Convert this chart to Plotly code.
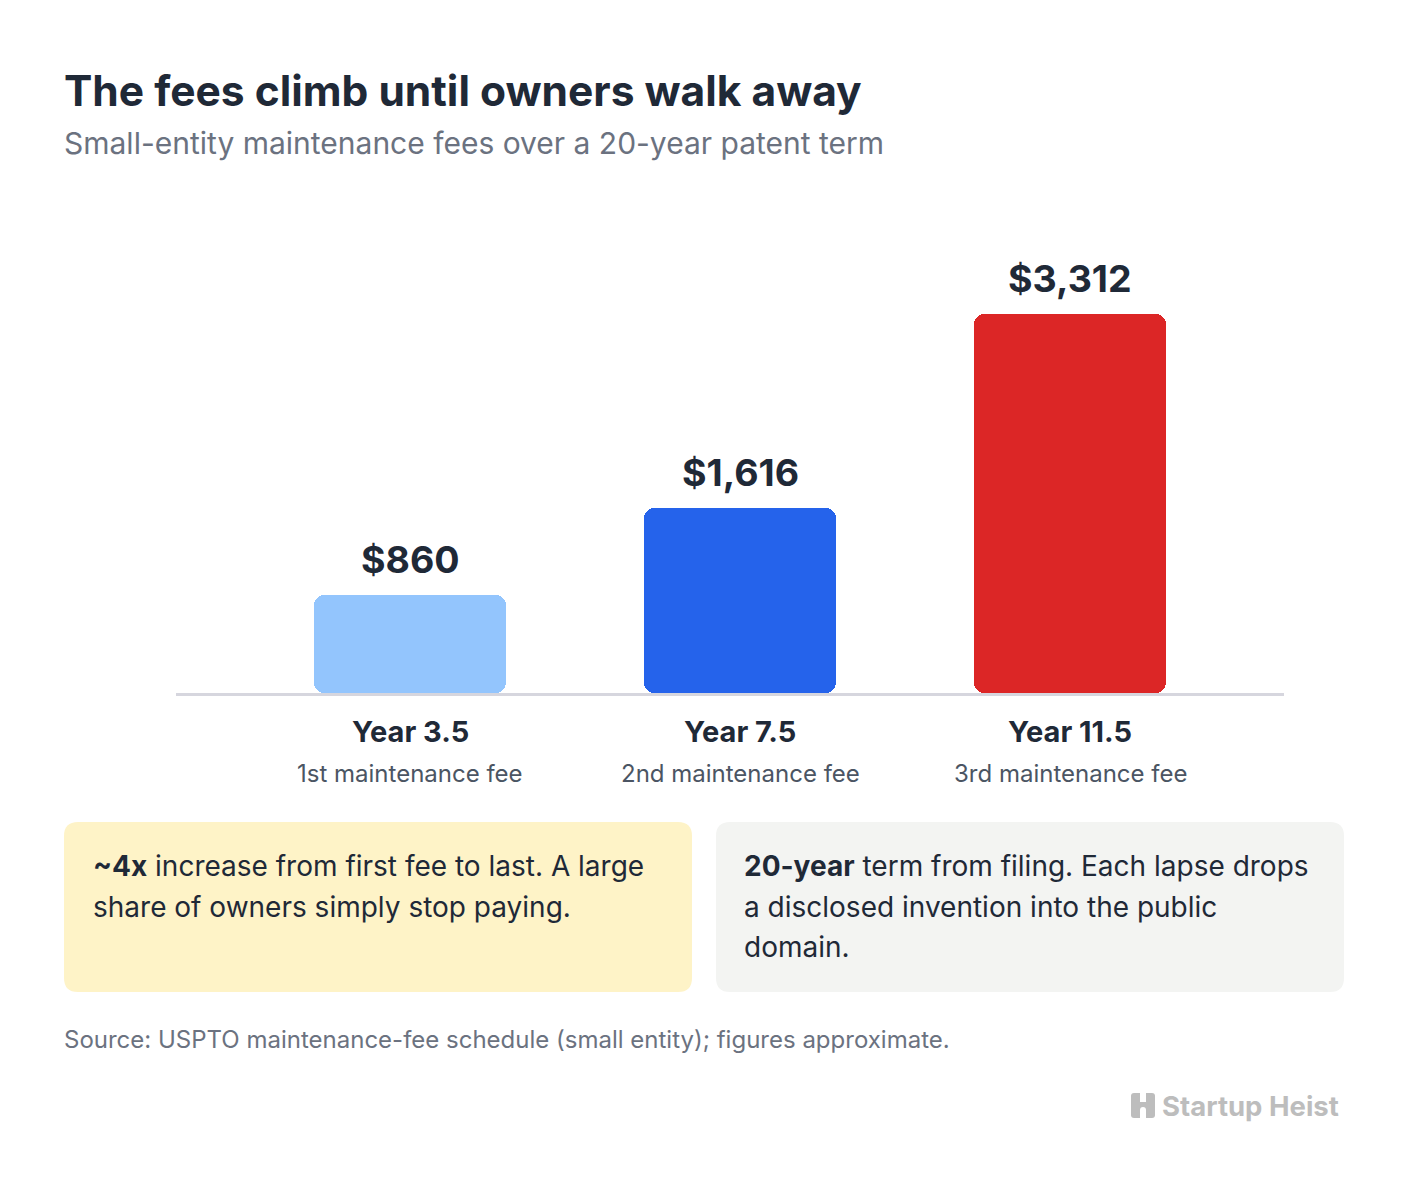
import plotly.graph_objects as go

# ---- data ----
categories = ["Year 3.5", "Year 7.5", "Year 11.5"]
sublabels = ["1st maintenance fee", "2nd maintenance fee", "3rd maintenance fee"]
fees = [860, 1616, 3312]
fee_labels = ["$860", "$1,616", "$3,312"]
bar_colors = ["#93C5FD", "#2563EB", "#DC2626"]

title = "The fees climb until owners walk away"
subtitle = "Small-entity maintenance fees over a 20-year patent term"
note_left = ["<b>~4x</b> increase from first fee to last. A large",
             "share of owners simply stop paying."]
note_right = ["<b>20-year</b> term from filing. Each lapse drops",
              "a disclosed invention into the public",
              "domain."]
source = "Source: USPTO maintenance-fee schedule (small entity); figures approximate."
brand = "Startup Heist"

# ---- layout geometry (pixels) ----
W, H = 1408, 1190
L, R, T, B = 176, 1284, 230, 693
FONT = "Inter"
DARK = "#1F2937"
GRAY = "#6B7280"


def px(x):
    return (x - L) / (R - L)


def py(y):
    return (B - y) / (B - T)


def rrect(x0, y0, x1, y1, r):
    X0, X1 = px(x0), px(x1)
    Y0, Y1 = py(y0), py(y1)
    rx = r / (R - L)
    ry = r / (B - T)
    return (f"M {X0+rx},{Y0} L {X1-rx},{Y0} Q {X1},{Y0} {X1},{Y0-ry} "
            f"L {X1},{Y1+ry} Q {X1},{Y1} {X1-rx},{Y1} L {X0+rx},{Y1} "
            f"Q {X0},{Y1} {X0},{Y1+ry} L {X0},{Y0-ry} Q {X0},{Y0} {X0+rx},{Y0} Z")


xs = list(range(len(categories)))
bw = 192 / 330

fig = go.Figure()
# lower part (rounded at the bottom end)
fig.add_trace(go.Bar(x=xs, base=[v * 0.6 for v in fees], y=[-v * 0.6 for v in fees],
                     width=bw, marker=dict(color=bar_colors, line=dict(width=0), cornerradius=10),
                     hoverinfo="skip", showlegend=False))
# upper part (rounded at the top end)
fig.add_trace(go.Bar(x=xs, base=[v * 0.4 for v in fees], y=[v * 0.6 for v in fees],
                     width=bw, marker=dict(color=bar_colors, line=dict(width=0), cornerradius=10),
                     customdata=fees, hovertemplate="%{customdata}<extra></extra>", showlegend=False))

ann = []
# value labels
for i, (v, lab) in enumerate(zip(fees, fee_labels)):
    ann.append(dict(x=i, y=v, xref="x", yref="y", text=f"<b>{lab}</b>", showarrow=False,
                    yanchor="bottom", yshift=11, font=dict(family=FONT, size=37.5, color=DARK)))
# category labels
for i, (c, s) in enumerate(zip(categories, sublabels)):
    ann.append(dict(x=i, y=py(731), xref="x", yref="paper", text=f"<b>{c}</b>", showarrow=False,
                    yanchor="middle", font=dict(family=FONT, size=29, color=DARK)))
    ann.append(dict(x=i, y=py(773), xref="x", yref="paper", text=s, showarrow=False,
                    yanchor="middle", font=dict(family=FONT, size=24, color="#4B5563")))

# title / subtitle
ann.append(dict(x=px(62), y=py(90), xref="paper", yref="paper", text=f"<b>{title}</b>",
                showarrow=False, xanchor="left", yanchor="middle",
                font=dict(family=FONT, size=42.5, color=DARK)))
ann.append(dict(x=px(62), y=py(143), xref="paper", yref="paper", text=subtitle,
                showarrow=False, xanchor="left", yanchor="middle",
                font=dict(family=FONT, size=30, color=GRAY)))

# notes
for k, line in enumerate(note_left):
    ann.append(dict(x=px(91), y=py(866 + 40.5 * k), xref="paper", yref="paper", text=line,
                    showarrow=False, xanchor="left", yanchor="middle",
                    font=dict(family=FONT, size=28, color=DARK)))
for k, line in enumerate(note_right):
    ann.append(dict(x=px(742), y=py(866 + 40.5 * k), xref="paper", yref="paper", text=line,
                    showarrow=False, xanchor="left", yanchor="middle",
                    font=dict(family=FONT, size=28, color=DARK)))

# source
ann.append(dict(x=px(62), y=py(1039), xref="paper", yref="paper", text=source,
                showarrow=False, xanchor="left", yanchor="middle",
                font=dict(family=FONT, size=24, color=GRAY)))
# brand
ann.append(dict(x=px(1341), y=py(1106), xref="paper", yref="paper", text=f"<b>{brand}</b>",
                showarrow=False, xanchor="right", yanchor="middle",
                font=dict(family=FONT, size=27.5, color="#BDBDBD")))

shapes = [
    dict(type="path", xref="paper", yref="paper", path=rrect(64, 822, 692, 992, 14),
         fillcolor="#FEF3C7", line=dict(width=0), layer="below"),
    dict(type="path", xref="paper", yref="paper", path=rrect(716, 822, 1344, 992, 14),
         fillcolor="#F3F4F2", line=dict(width=0), layer="below"),
    # brand icon
    dict(type="path", xref="paper", yref="paper", path=rrect(1131, 1093, 1155, 1118, 3),
         fillcolor="#BDBDBD", line=dict(width=0)),
    dict(type="rect", xref="paper", yref="paper", x0=px(1140), x1=px(1146), y0=py(1093), y1=py(1102),
         fillcolor="white", line=dict(width=0)),
    dict(type="path", xref="paper", yref="paper", path=rrect(1140, 1107, 1146, 1122, 3),
         fillcolor="white", line=dict(width=0)),
]

fig.update_layout(
    width=W, height=H,
    margin=dict(l=L, r=W - R, t=T, b=H - B),
    paper_bgcolor="white", plot_bgcolor="white",
    barmode="overlay", bargap=0,
    xaxis=dict(range=[-(410 - L) / 330, (R - 410) / 330], showticklabels=False, ticks="",
               showgrid=False, zeroline=False, showline=True, linecolor="#D6D6DE", linewidth=3,
               fixedrange=True),
    yaxis=dict(range=[0, (B - T) / ((B - 314) / 3312)], visible=False, showgrid=False,
               zeroline=False, fixedrange=True),
    annotations=ann, shapes=shapes,
    font=dict(family=FONT),
)

fig.write_html("out.html", config={"displayModeBar": False})
